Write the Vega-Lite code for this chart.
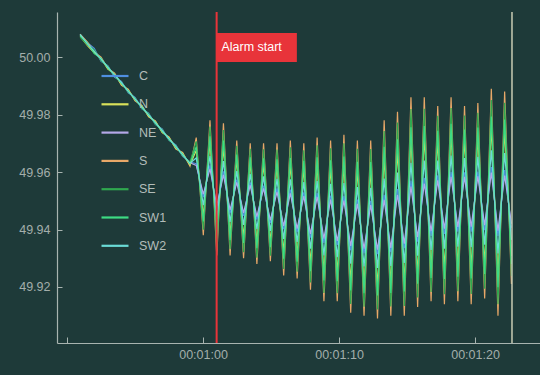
{
  "$schema": "https://vega.github.io/schema/vega-lite/v6.json",
  "width": 483,
  "height": 331,
  "autosize": {"type": "none"},
  "padding": {"left": 57, "top": 12, "right": 0, "bottom": 32},
  "background": "#1e3a39",
  "config": {
    "view": {"stroke": null, "fill": "#1e3a39"},
    "font": "Liberation Sans",
    "axis": {
      "grid": false,
      "domainColor": "#a8b4b0",
      "domainWidth": 1.2,
      "tickColor": "#a8b4b0",
      "labelColor": "#a3aeab",
      "labelFontSize": 12.5,
      "title": null
    },
    "legend": {
      "orient": "none",
      "legendX": 43,
      "legendY": 49,
      "padding": 0,
      "symbolType": "stroke",
      "symbolSize": 729,
      "symbolStrokeWidth": 2.2,
      "labelFontSize": 12.5,
      "labelColor": "#b3bdba",
      "labelOffset": 9,
      "rowPadding": 6.3,
      "title": null
    }
  },
  "datasets": {
    "freq": [
      {"t": 50.96, "C": 50.0075, "N": 50.0072, "NE": 50.0078, "S": 50.008, "SE": 50.007, "SW1": 50.0076, "SW2": 50.0079},
      {"t": 51.5, "C": 50.005, "N": 50.004, "NE": 50.0045, "S": 50.0052, "SE": 50.0043, "SW1": 50.0049, "SW2": 50.0046},
      {"t": 52.0, "C": 50.003, "N": 50.0015, "NE": 50.0022, "S": 50.0018, "SE": 50.0025, "SW1": 50.0012, "SW2": 50.002},
      {"t": 52.5, "C": 49.9985, "N": 49.9995, "NE": 49.999, "S": 50.0, "SE": 49.9988, "SW1": 49.9996, "SW2": 49.9993},
      {"t": 53.0, "C": 49.997, "N": 49.9958, "NE": 49.9966, "S": 49.996, "SE": 49.9968, "SW1": 49.9962, "SW2": 49.9965},
      {"t": 53.5, "C": 49.993, "N": 49.994, "NE": 49.9935, "S": 49.9944, "SE": 49.9933, "SW1": 49.9939, "SW2": 49.9937},
      {"t": 54.0, "C": 49.9915, "N": 49.9905, "NE": 49.991, "S": 49.9902, "SE": 49.9912, "SW1": 49.9908, "SW2": 49.9911},
      {"t": 54.5, "C": 49.9876, "N": 49.9885, "NE": 49.988, "S": 49.9888, "SE": 49.9878, "SW1": 49.9883, "SW2": 49.9881},
      {"t": 55.0, "C": 49.986, "N": 49.985, "NE": 49.9856, "S": 49.9848, "SE": 49.9857, "SW1": 49.9852, "SW2": 49.9855},
      {"t": 55.5, "C": 49.982, "N": 49.983, "NE": 49.9824, "S": 49.9832, "SE": 49.9822, "SW1": 49.9828, "SW2": 49.9826},
      {"t": 56.0, "C": 49.9805, "N": 49.9794, "NE": 49.98, "S": 49.9792, "SE": 49.9802, "SW1": 49.9797, "SW2": 49.9799},
      {"t": 56.5, "C": 49.9765, "N": 49.9775, "NE": 49.977, "S": 49.9778, "SE": 49.9767, "SW1": 49.9773, "SW2": 49.9771},
      {"t": 57.0, "C": 49.975, "N": 49.9738, "NE": 49.9745, "S": 49.9737, "SE": 49.9747, "SW1": 49.9741, "SW2": 49.9744},
      {"t": 57.5, "C": 49.971, "N": 49.972, "NE": 49.9714, "S": 49.9722, "SE": 49.9711, "SW1": 49.9717, "SW2": 49.9715},
      {"t": 58.0, "C": 49.9694, "N": 49.9683, "NE": 49.969, "S": 49.968, "SE": 49.9692, "SW1": 49.9686, "SW2": 49.9689},
      {"t": 58.5, "C": 49.9655, "N": 49.9665, "NE": 49.9658, "S": 49.9668, "SE": 49.9656, "SW1": 49.9662, "SW2": 49.966},
      {"t": 59.04, "C": 49.9635, "N": 49.9625, "NE": 49.9632, "S": 49.962, "SE": 49.9634, "SW1": 49.9628, "SW2": 49.9631},
      {"t": 59.5, "C": 49.9629, "N": 49.9675, "NE": 49.9623, "S": 49.972, "SE": 49.9707, "SW1": 49.9688, "SW2": 49.9649},
      {"t": 60.02, "C": 49.9513, "N": 49.9447, "NE": 49.9523, "S": 49.938, "SE": 49.9399, "SW1": 49.9428, "SW2": 49.9485},
      {"t": 60.51, "C": 49.9623, "N": 49.9701, "NE": 49.9611, "S": 49.978, "SE": 49.9758, "SW1": 49.9724, "SW2": 49.9656},
      {"t": 61.01, "C": 49.9471, "N": 49.9391, "NE": 49.9483, "S": 49.931, "SE": 49.9333, "SW1": 49.9368, "SW2": 49.9437},
      {"t": 61.5, "C": 49.9602, "N": 49.9686, "NE": 49.959, "S": 49.977, "SE": 49.9746, "SW1": 49.971, "SW2": 49.9638},
      {"t": 61.99, "C": 49.9457, "N": 49.9384, "NE": 49.9468, "S": 49.931, "SE": 49.9331, "SW1": 49.9363, "SW2": 49.9426},
      {"t": 62.48, "C": 49.9574, "N": 49.9642, "NE": 49.9564, "S": 49.971, "SE": 49.9691, "SW1": 49.9661, "SW2": 49.9603},
      {"t": 62.98, "C": 49.9447, "N": 49.9374, "NE": 49.9458, "S": 49.93, "SE": 49.9321, "SW1": 49.9353, "SW2": 49.9416},
      {"t": 63.47, "C": 49.9564, "N": 49.9632, "NE": 49.9554, "S": 49.97, "SE": 49.9681, "SW1": 49.9651, "SW2": 49.9593},
      {"t": 63.96, "C": 49.9434, "N": 49.9357, "NE": 49.9445, "S": 49.928, "SE": 49.9302, "SW1": 49.9335, "SW2": 49.9401},
      {"t": 64.45, "C": 49.9553, "N": 49.9627, "NE": 49.9543, "S": 49.97, "SE": 49.9679, "SW1": 49.9648, "SW2": 49.9585},
      {"t": 64.95, "C": 49.9423, "N": 49.9357, "NE": 49.9433, "S": 49.929, "SE": 49.9309, "SW1": 49.9338, "SW2": 49.9395},
      {"t": 65.44, "C": 49.9543, "N": 49.9621, "NE": 49.9531, "S": 49.97, "SE": 49.9678, "SW1": 49.9644, "SW2": 49.9576},
      {"t": 65.93, "C": 49.9401, "N": 49.9321, "NE": 49.9413, "S": 49.924, "SE": 49.9263, "SW1": 49.9298, "SW2": 49.9367},
      {"t": 66.42, "C": 49.9539, "N": 49.9624, "NE": 49.9526, "S": 49.971, "SE": 49.9686, "SW1": 49.9649, "SW2": 49.9575},
      {"t": 66.92, "C": 49.9391, "N": 49.9311, "NE": 49.9403, "S": 49.923, "SE": 49.9253, "SW1": 49.9288, "SW2": 49.9357},
      {"t": 67.41, "C": 49.9529, "N": 49.9614, "NE": 49.9516, "S": 49.97, "SE": 49.9676, "SW1": 49.9639, "SW2": 49.9565},
      {"t": 67.9, "C": 49.9372, "N": 49.9281, "NE": 49.9385, "S": 49.919, "SE": 49.9216, "SW1": 49.9255, "SW2": 49.9333},
      {"t": 68.39, "C": 49.9528, "N": 49.9624, "NE": 49.9514, "S": 49.972, "SE": 49.9693, "SW1": 49.9651, "SW2": 49.9569},
      {"t": 68.89, "C": 49.9353, "N": 49.9252, "NE": 49.9368, "S": 49.915, "SE": 49.9179, "SW1": 49.9223, "SW2": 49.931},
      {"t": 69.38, "C": 49.9518, "N": 49.9614, "NE": 49.9504, "S": 49.971, "SE": 49.9683, "SW1": 49.9641, "SW2": 49.9559},
      {"t": 69.87, "C": 49.9346, "N": 49.9248, "NE": 49.936, "S": 49.915, "SE": 49.9178, "SW1": 49.922, "SW2": 49.9304},
      {"t": 70.36, "C": 49.9517, "N": 49.9623, "NE": 49.9501, "S": 49.973, "SE": 49.97, "SW1": 49.9654, "SW2": 49.9562},
      {"t": 70.86, "C": 49.9327, "N": 49.9219, "NE": 49.9343, "S": 49.911, "SE": 49.9141, "SW1": 49.9188, "SW2": 49.9281},
      {"t": 71.35, "C": 49.9504, "N": 49.9607, "NE": 49.9489, "S": 49.971, "SE": 49.9681, "SW1": 49.9636, "SW2": 49.9548},
      {"t": 71.84, "C": 49.9317, "N": 49.9209, "NE": 49.9333, "S": 49.91, "SE": 49.9131, "SW1": 49.9178, "SW2": 49.9271},
      {"t": 72.33, "C": 49.95, "N": 49.9605, "NE": 49.9485, "S": 49.971, "SE": 49.968, "SW1": 49.9635, "SW2": 49.9545},
      {"t": 72.83, "C": 49.9314, "N": 49.9202, "NE": 49.933, "S": 49.909, "SE": 49.9122, "SW1": 49.917, "SW2": 49.9266},
      {"t": 73.32, "C": 49.9521, "N": 49.9651, "NE": 49.9503, "S": 49.978, "SE": 49.9743, "SW1": 49.9688, "SW2": 49.9577},
      {"t": 73.81, "C": 49.9321, "N": 49.921, "NE": 49.9336, "S": 49.91, "SE": 49.9132, "SW1": 49.9179, "SW2": 49.9273},
      {"t": 74.3, "C": 49.9541, "N": 49.9675, "NE": 49.9521, "S": 49.981, "SE": 49.9772, "SW1": 49.9714, "SW2": 49.9598},
      {"t": 74.8, "C": 49.9335, "N": 49.9217, "NE": 49.9351, "S": 49.91, "SE": 49.9134, "SW1": 49.9184, "SW2": 49.9284},
      {"t": 75.29, "C": 49.957, "N": 49.9715, "NE": 49.9549, "S": 49.986, "SE": 49.9819, "SW1": 49.9756, "SW2": 49.9632},
      {"t": 75.78, "C": 49.9358, "N": 49.9244, "NE": 49.9374, "S": 49.913, "SE": 49.9163, "SW1": 49.9211, "SW2": 49.9309},
      {"t": 76.27, "C": 49.958, "N": 49.972, "NE": 49.956, "S": 49.986, "SE": 49.982, "SW1": 49.976, "SW2": 49.964},
      {"t": 76.77, "C": 49.9378, "N": 49.9264, "NE": 49.9394, "S": 49.915, "SE": 49.9183, "SW1": 49.9231, "SW2": 49.9329},
      {"t": 77.26, "C": 49.9589, "N": 49.9709, "NE": 49.9571, "S": 49.983, "SE": 49.9796, "SW1": 49.9744, "SW2": 49.964},
      {"t": 77.75, "C": 49.9385, "N": 49.9263, "NE": 49.9403, "S": 49.914, "SE": 49.9175, "SW1": 49.9228, "SW2": 49.9333},
      {"t": 78.24, "C": 49.9601, "N": 49.9731, "NE": 49.9583, "S": 49.986, "SE": 49.9823, "SW1": 49.9768, "SW2": 49.9657},
      {"t": 78.74, "C": 49.9392, "N": 49.9271, "NE": 49.9409, "S": 49.915, "SE": 49.9185, "SW1": 49.9236, "SW2": 49.934},
      {"t": 79.23, "C": 49.9599, "N": 49.9715, "NE": 49.9583, "S": 49.983, "SE": 49.9797, "SW1": 49.9748, "SW2": 49.9649},
      {"t": 79.72, "C": 49.9392, "N": 49.9266, "NE": 49.941, "S": 49.914, "SE": 49.9176, "SW1": 49.923, "SW2": 49.9338},
      {"t": 80.21, "C": 49.9602, "N": 49.9721, "NE": 49.9585, "S": 49.984, "SE": 49.9806, "SW1": 49.9755, "SW2": 49.9653},
      {"t": 80.71, "C": 49.9398, "N": 49.9279, "NE": 49.9415, "S": 49.916, "SE": 49.9194, "SW1": 49.9245, "SW2": 49.9347},
      {"t": 81.2, "C": 49.9617, "N": 49.9754, "NE": 49.9598, "S": 49.989, "SE": 49.9851, "SW1": 49.9793, "SW2": 49.9676},
      {"t": 81.69, "C": 49.9377, "N": 49.9238, "NE": 49.9396, "S": 49.91, "SE": 49.914, "SW1": 49.9199, "SW2": 49.9317},
      {"t": 82.18, "C": 49.9607, "N": 49.9744, "NE": 49.9588, "S": 49.988, "SE": 49.9841, "SW1": 49.9783, "SW2": 49.9666},
      {"t": 82.68, "C": 49.9406, "N": 49.9308, "NE": 49.942, "S": 49.921, "SE": 49.9238, "SW1": 49.928, "SW2": 49.9364}
    ],
    "alarm": [
      {"label": "Alarm start", "t": 61.0, "t_end": 66.9, "top": 50.0084, "bottom": 49.9983, "text_t": 61.35, "text_v": 50.0034}
    ],
    "cursor": [
      {"t": 82.72}
    ]
  },
  "layer": [
    {
      "data": {"name": "freq"},
      "transform": [
        {"fold": ["C", "NE", "S", "N", "SE", "SW1", "SW2"], "as": ["series", "value"]}
      ],
      "mark": {"type": "line", "strokeWidth": 1.2, "clip": true},
      "encoding": {
        "x": {
          "field": "t",
          "type": "quantitative",
          "scale": {"domain": [49.26, 84.78], "nice": false, "zero": false},
          "axis": {
            "values": [50, 60, 70, 80],
            "tickSize": -6,
            "labelPadding": 11,
            "labelExpr": "datum.value < 55 ? '' : '00:01:' + (datum.value - 60 < 10 ? '0' : '') + (datum.value - 60)"
          }
        },
        "y": {
          "field": "value",
          "type": "quantitative",
          "scale": {"domain": [49.9005, 50.0157], "nice": false, "zero": false},
          "axis": {
            "values": [49.92, 49.94, 49.96, 49.98, 50.0],
            "format": ".2f",
            "tickSize": -5,
            "labelPadding": 12
          }
        },
        "color": {
          "field": "series",
          "type": "nominal",
          "scale": {
            "domain": ["C", "N", "NE", "S", "SE", "SW1", "SW2"],
            "range": ["#4f8fe0", "#d8e05a", "#b4a8e8", "#e8a868", "#2fa84f", "#3ddc84", "#6adbd6"]
          }
        }
      }
    },
    {
      "data": {"name": "cursor"},
      "mark": {"type": "rule", "color": "#c9cdb4", "strokeWidth": 1.5},
      "encoding": {"x": {"field": "t", "type": "quantitative"}}
    },
    {
      "data": {"name": "alarm"},
      "mark": {"type": "rule", "color": "#e8343a", "strokeWidth": 2},
      "encoding": {"x": {"field": "t", "type": "quantitative"}}
    },
    {
      "data": {"name": "alarm"},
      "mark": {"type": "rect", "color": "#e8343a"},
      "encoding": {
        "x": {"field": "t", "type": "quantitative"},
        "x2": {"field": "t_end"},
        "y": {"field": "top", "type": "quantitative"},
        "y2": {"field": "bottom"}
      }
    },
    {
      "data": {"name": "alarm"},
      "mark": {"type": "text", "color": "#ffffff", "align": "left", "baseline": "middle", "fontSize": 12.5},
      "encoding": {
        "x": {"field": "text_t", "type": "quantitative"},
        "y": {"field": "text_v", "type": "quantitative"},
        "text": {"field": "label"}
      }
    }
  ]
}
